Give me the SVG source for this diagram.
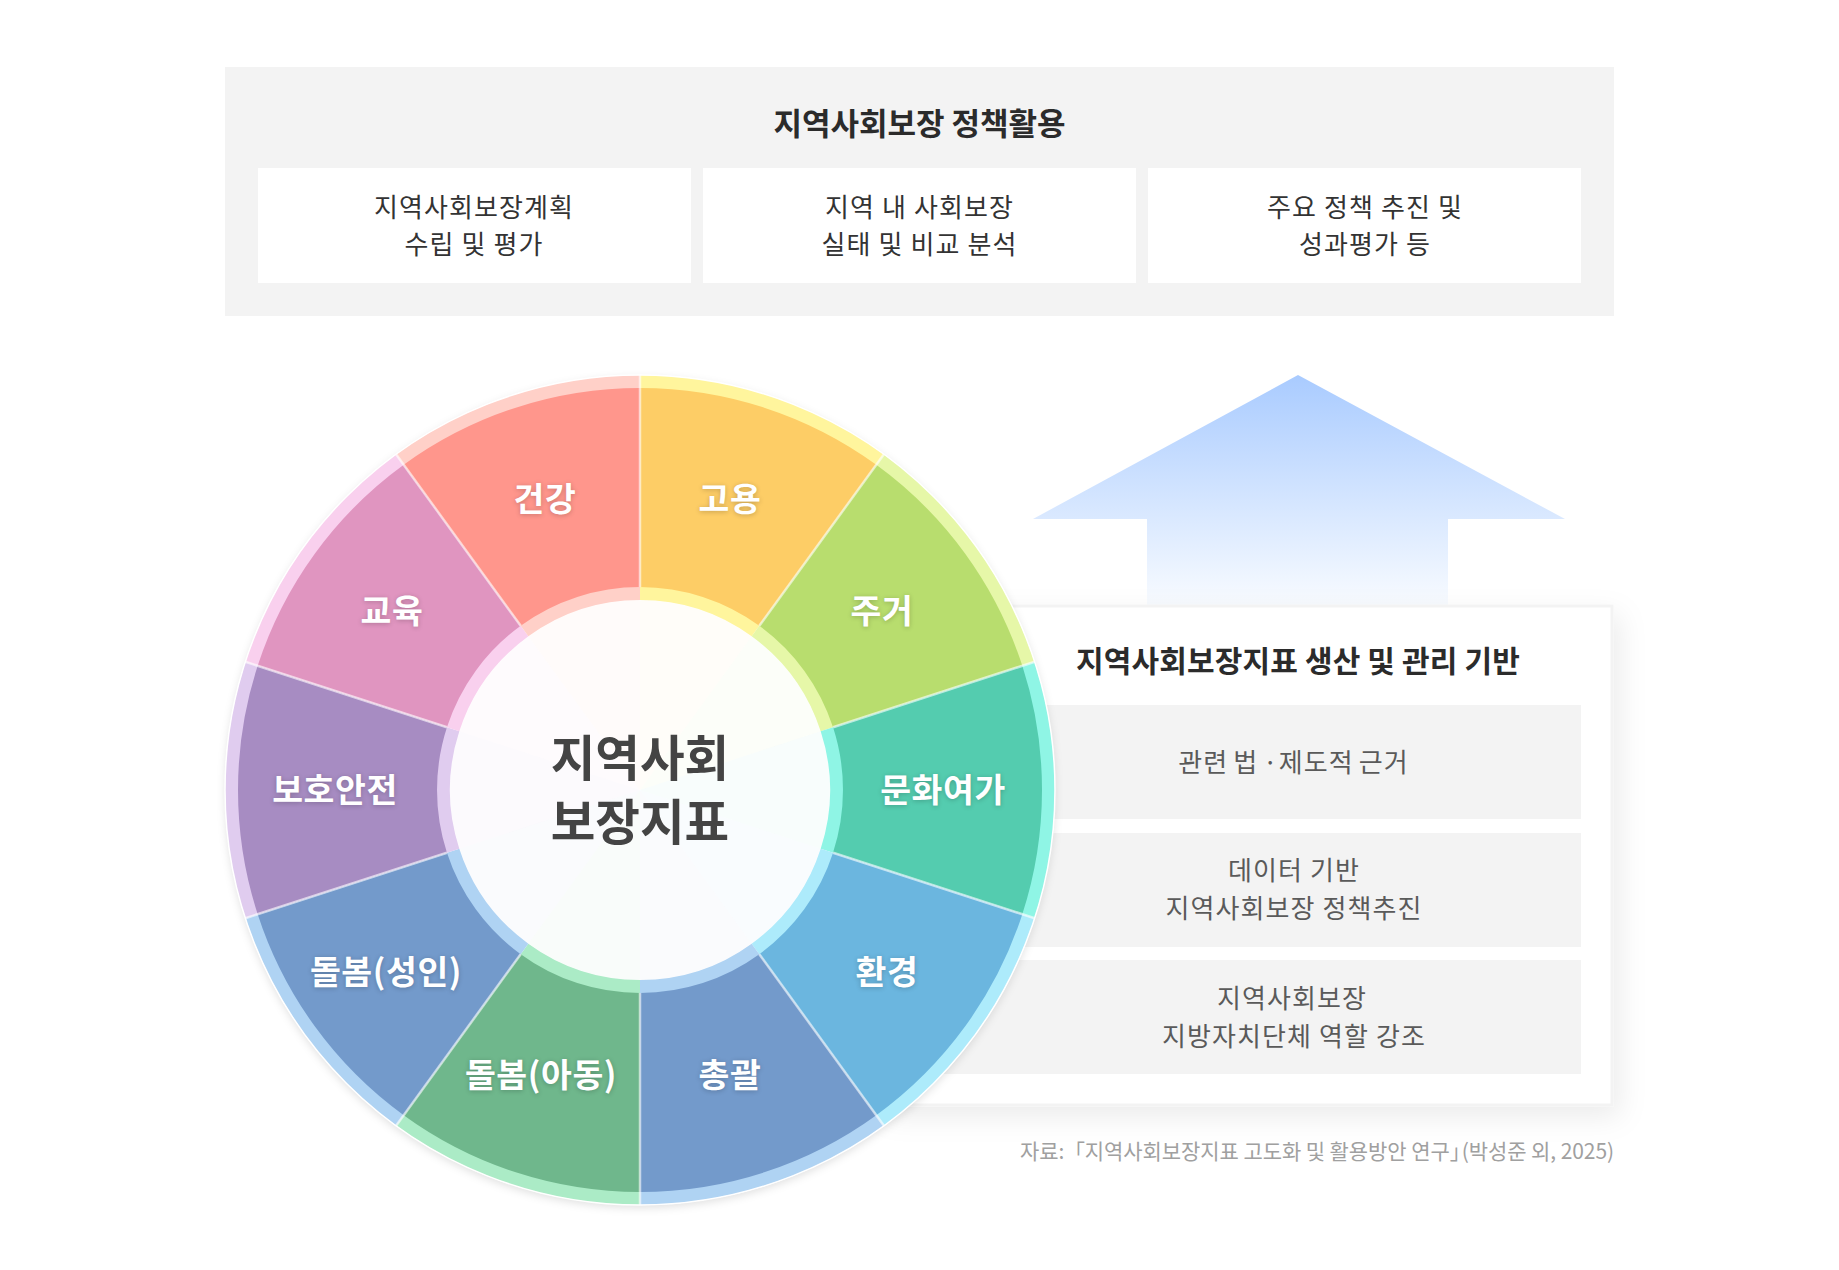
<svg xmlns="http://www.w3.org/2000/svg" width="1839" height="1270" viewBox="0 0 1839 1270">
<style>
text{font-family:"Noto Sans CJK KR","Noto Sans",sans-serif;text-anchor:middle}
.h{font-size:31px;font-weight:700;fill:#2b2b2b}
.h2{font-size:30px;font-weight:700;fill:#2b2b2b;letter-spacing:.15px}
.b{font-size:26px;font-weight:400;fill:#333;letter-spacing:1.100px}
.r{font-size:26px;font-weight:400;fill:#5a5a5a;letter-spacing:1.100px}
.l{font-size:33.500px;font-weight:700;fill:#fff;letter-spacing:.6px;text-shadow:0 1px 5px rgba(0,0,0,.22)}
.c{font-size:48.500px;font-weight:700;fill:#444}
.s{font-size:21px;fill:#a0a0a0;text-anchor:end;letter-spacing:-.08px}
.sep{stroke:#fff;stroke-opacity:.6;stroke-width:2.500;fill:none}
</style>
<defs>
<linearGradient id="ag" x1="0" y1="375" x2="0" y2="605" gradientUnits="userSpaceOnUse"><stop offset="0" stop-color="#a9cbff"/><stop offset="1" stop-color="#f8fbff"/></linearGradient>
<filter id="ds" x="-20%" y="-20%" width="140%" height="140%"><feDropShadow dx="0" dy="3" stdDeviation="4" flood-color="#000" flood-opacity=".12"/></filter>
<filter id="ps" x="-10%" y="-10%" width="120%" height="120%"><feDropShadow dx="6" dy="10" stdDeviation="14" flood-color="#000" flood-opacity=".08"/></filter>
<path id="ring" d="M640 375A415 415 0 0 1 883.900 454.300L751.700 636.300A190 190 0 0 0 640 600Z"/>
<path id="main" d="M640 388A402 402 0 0 1 876.300 464.800L759.300 625.800A203 203 0 0 0 640 587Z"/>
<path id="core" d="M640 790L640 600A190 190 0 0 1 751.700 636.300Z" fill-opacity=".04"/>
<path id="edge" class="sep" d="M640 375L640 587"/>
</defs>

<g id="policy-panel">
<rect x="225" y="67" width="1389" height="249" fill="#f3f3f3"/>
<text class="h" x="919.500" y="135">지역사회보장 정책활용</text>
</g>
<g id="policy-1"><rect x="258" y="168" width="433" height="115" fill="#fff"/><text class="b" x="474" y="217">지역사회보장계획</text><text class="b" x="474" y="254">수립 및 평가</text></g>
<g id="policy-2"><rect x="703" y="168" width="433" height="115" fill="#fff"/><text class="b" x="919.500" y="217">지역 내 사회보장</text><text class="b" x="919.500" y="254">실태 및 비교 분석</text></g>
<g id="policy-3"><rect x="1148" y="168" width="433" height="115" fill="#fff"/><text class="b" x="1365" y="217">주요 정책 추진 및</text><text class="b" x="1365" y="254">성과평가 등</text></g>

<g id="connectors">
<path d="M1298 375L1565 519H1448V606H1147V519H1033Z" fill="url(#ag)"/>
</g>

<g id="base-panel">
<rect x="880" y="606" width="732" height="499" fill="#fff" stroke="#f3f3f3" stroke-width="3" filter="url(#ps)"/>
<text class="h2" x="1298" y="672">지역사회보장지표 생산 및 관리 기반</text>
</g>
<g id="base-1"><rect x="900" y="705" width="681" height="114" fill="#f3f3f3"/><text class="r" x="1293.500" y="772" word-spacing="-2">관련 법 ·제도적 근거</text></g>
<g id="base-2"><rect x="900" y="833" width="681" height="114" fill="#f3f3f3"/><text class="r" x="1294" y="880">데이터 기반</text><text class="r" x="1294" y="918">지역사회보장 정책추진</text></g>
<g id="base-3"><rect x="900" y="960" width="681" height="114" fill="#f3f3f3"/><text class="r" x="1292" y="1008">지역사회보장</text><text class="r" x="1294" y="1046">지방자치단체 역할 강조</text></g>
<text class="s" x="1614" y="1159"><tspan word-spacing="-5">자료: </tspan>「지역사회보장지표 고도화 및 활용방안 연구<tspan style="letter-spacing:-9px">」</tspan>(박성준 외, 2025)</text>

<g id="wheel-base"><circle cx="640" cy="790" r="415" fill="#fff" filter="url(#ds)"/></g>
<g id="s-goyong" transform="rotate(0 640 790)"><use href="#ring" fill="#fff59d"/><use href="#main" fill="#fdcd66"/><use href="#core" fill="#fdcd66"/></g>
<g id="s-jugeo" transform="rotate(36 640 790)"><use href="#ring" fill="#e6f7a8"/><use href="#main" fill="#b8dd6e"/><use href="#core" fill="#b8dd6e"/></g>
<g id="s-munhwa" transform="rotate(72 640 790)"><use href="#ring" fill="#8ff5e5"/><use href="#main" fill="#54ccaf"/><use href="#core" fill="#54ccaf"/></g>
<g id="s-hwangyeong" transform="rotate(108 640 790)"><use href="#ring" fill="#adebfb"/><use href="#main" fill="#6bb6df"/><use href="#core" fill="#6bb6df"/></g>
<g id="s-chonggwal" transform="rotate(144 640 790)"><use href="#ring" fill="#afd3f3"/><use href="#main" fill="#739acb"/><use href="#core" fill="#739acb"/></g>
<g id="s-child" transform="rotate(180 640 790)"><use href="#ring" fill="#abebc6"/><use href="#main" fill="#6fb78c"/><use href="#core" fill="#6fb78c"/></g>
<g id="s-adult" transform="rotate(216 640 790)"><use href="#ring" fill="#afd3f3"/><use href="#main" fill="#739acb"/><use href="#core" fill="#739acb"/></g>
<g id="s-safety" transform="rotate(252 640 790)"><use href="#ring" fill="#e0ccef"/><use href="#main" fill="#a78cc2"/><use href="#core" fill="#a78cc2"/></g>
<g id="s-edu" transform="rotate(288 640 790)"><use href="#ring" fill="#f9d0ee"/><use href="#main" fill="#e095c0"/><use href="#core" fill="#e095c0"/></g>
<g id="s-health" transform="rotate(324 640 790)"><use href="#ring" fill="#ffd0c8"/><use href="#main" fill="#ff968c"/><use href="#core" fill="#ff968c"/></g>
<g id="wheel-edges">
<use href="#edge"/><use href="#edge" transform="rotate(36 640 790)"/><use href="#edge" transform="rotate(72 640 790)"/><use href="#edge" transform="rotate(108 640 790)"/><use href="#edge" transform="rotate(144 640 790)"/><use href="#edge" transform="rotate(180 640 790)"/><use href="#edge" transform="rotate(216 640 790)"/><use href="#edge" transform="rotate(252 640 790)"/><use href="#edge" transform="rotate(288 640 790)"/><use href="#edge" transform="rotate(324 640 790)"/>
<circle cx="640" cy="790" r="415" fill="none" stroke="#fff" stroke-width="1.500"/>
</g>
<g id="wheel-labels">
<text class="l" x="730" y="511">고용</text>
<text class="l" x="882" y="623">주거</text>
<text class="l" x="943" y="802">문화여가</text>
<text class="l" x="887" y="984">환경</text>
<text class="l" x="730" y="1087">총괄</text>
<text class="l" x="541" y="1087">돌봄(아동)</text>
<text class="l" x="386" y="984">돌봄(성인)</text>
<text class="l" x="335" y="802">보호안전</text>
<text class="l" x="392" y="623">교육</text>
<text class="l" x="545" y="511">건강</text>
</g>
<g id="center">
<text class="c" x="640" y="776">지역사회</text>
<text class="c" x="640" y="840">보장지표</text>
</g>
</svg>
